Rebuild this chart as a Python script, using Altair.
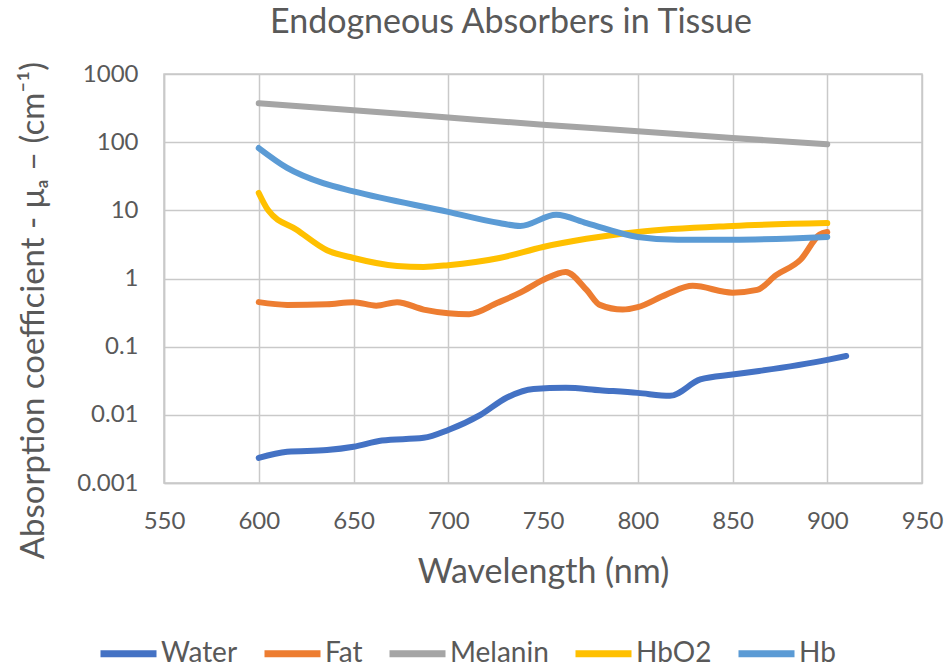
import altair as alt
import pandas as pd

# Absorption spectra of endogenous tissue absorbers (cm^-1)
water_nm = [600, 615, 636, 650, 665, 687, 700, 717, 731, 745, 762, 780, 800, 817, 833, 850, 864, 900, 910]
water_mu = [0.00234, 0.00287, 0.00304, 0.0034, 0.0042, 0.0046, 0.006, 0.010, 0.018, 0.024, 0.025, 0.023, 0.021, 0.019, 0.033, 0.039, 0.044, 0.064, 0.073]

fat_nm = [600, 615, 636, 650, 662, 673, 687, 700, 711, 726, 738, 750, 762, 773, 780, 792, 800, 815, 829, 850, 863, 873, 886, 896, 900]
fat_mu = [0.45, 0.41, 0.42, 0.45, 0.40, 0.45, 0.35, 0.31, 0.30, 0.44, 0.62, 0.95, 1.25, 0.68, 0.41, 0.35, 0.38, 0.58, 0.78, 0.62, 0.68, 1.12, 1.9, 4.4, 4.8]

melanin_nm = [600, 650, 700, 750, 800, 850, 900]
melanin_mu = [372, 295, 230, 180, 145, 115, 93]

hbo2_nm = [600, 605, 620, 636, 650, 673, 687, 700, 727, 750, 800, 850, 900]
hbo2_mu = [18, 10, 5.2, 2.6, 2.0, 1.53, 1.48, 1.57, 2.0, 2.9, 4.8, 5.9, 6.5]

hb_nm = [600, 615, 634, 650, 700, 727, 738, 757, 773, 800, 821, 850, 900]
hb_mu = [82, 42, 25, 19, 9.5, 6.5, 5.9, 8.6, 6.5, 4.07, 3.7, 3.7, 4.07]

series_names = ["Water", "Fat", "Melanin", "HbO2", "Hb"]
series_colors = ["#4472C4", "#ED7D31", "#A5A5A5", "#FFC000", "#5B9BD5"]

x_ticks = [550, 600, 650, 700, 750, 800, 850, 900, 950]
y_ticks = [0.001, 0.01, 0.1, 1, 10, 100, 1000]

rows = []
for name, nm, mu in [("Water", water_nm, water_mu), ("Fat", fat_nm, fat_mu),
                     ("Melanin", melanin_nm, melanin_mu), ("HbO2", hbo2_nm, hbo2_mu),
                     ("Hb", hb_nm, hb_mu)]:
    for w, v in zip(nm, mu):
        rows.append({"series": name, "order": series_names.index(name), "wl": w, "mu": v})
df = pd.DataFrame(rows)

FONT = "Lato"
TEXT = "#595959"
GRID = "#C9C9C9"

chart = alt.Chart(df).mark_line(
    interpolate="monotone", strokeWidth=6, strokeCap="round", strokeJoin="round"
).encode(
    x=alt.X("wl:Q", scale=alt.Scale(domain=[550, 950], nice=False, zero=False),
            axis=alt.Axis(values=x_ticks, title="Wavelength (nm)", format="d")),
    y=alt.Y("mu:Q", scale=alt.Scale(type="log", domain=[0.001, 1000], nice=False),
            axis=alt.Axis(values=y_ticks, format="~g", titleY=236,
                          title="Absorption coefficient - μₐ – (cm⁻¹)")),
    color=alt.Color("series:N", scale=alt.Scale(domain=series_names, range=series_colors),
                    legend=alt.Legend(title=None, orient="none", direction="horizontal",
                                      legendX=-67, legendY=548,
                                      symbolType="stroke", symbolSize=3136,
                                      symbolStrokeWidth=7, labelFontSize=28,
                                      labelFont=FONT, labelColor=TEXT,
                                      columnPadding=12, labelOffset=1)),
    order=alt.Order("order:Q"),
    detail="series:N",
).properties(
    width=758, height=409,
    padding={"left": 164, "top": 74, "right": 27, "bottom": 186},
    autosize=alt.AutoSizeParams(type="none"),
    title=alt.TitleParams("Endogneous Absorbers in Tissue", font=FONT, fontSize=34,
                          fontWeight="normal", color=TEXT, anchor="middle",
                          dx=-32, offset=21),
).configure_view(
    stroke=GRID, strokeWidth=1.5
).configure_axis(
    grid=True, gridColor=GRID, gridWidth=1.5, domain=True, domainColor=GRID,
    domainWidth=1.5, ticks=False, labelFont=FONT, labelFontSize=24, labelColor=TEXT,
    titleFont=FONT, titleFontWeight="normal", titleColor=TEXT, labelFlush=False,
    labelOverlap=False,
).configure_axisX(
    labelPadding=26, titlePadding=22, titleFontSize=34
).configure_axisY(
    labelPadding=26, titlePadding=26, titleFontSize=33
)

chart.save("out.html", embed_options={"renderer": "svg", "actions": False})
